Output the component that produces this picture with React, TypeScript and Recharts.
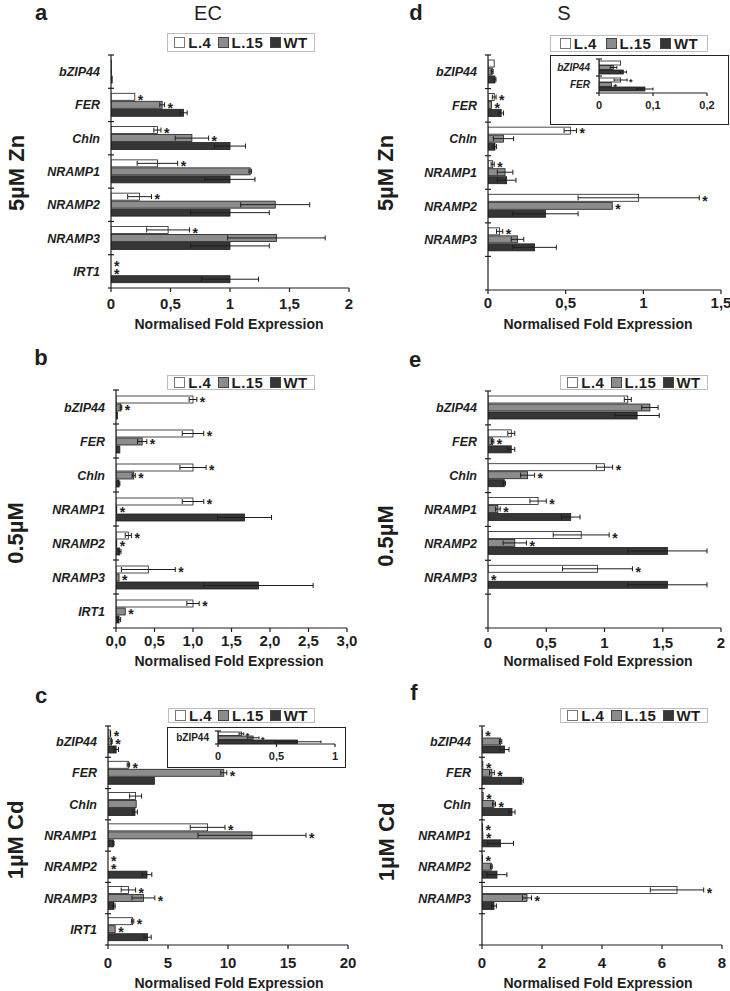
import React from 'react';
import { BarChart, Bar, XAxis, YAxis, ErrorBar } from 'recharts';

const FONT = '"Liberation Sans", Arial, Helvetica, sans-serif';
const INK = '#1e1e1e';
const FILL = { l4: '#ffffff', l15: '#8c8c8c', wt: '#363636' };

// genes, root (EC) panels have IRT1, shoot (S) panels leave the last slot empty
const genesRoot = ['bZIP44', 'FER', 'Chln', 'NRAMP1', 'NRAMP2', 'NRAMP3', 'IRT1'];
const genesShoot = ['bZIP44', 'FER', 'Chln', 'NRAMP1', 'NRAMP2', 'NRAMP3', ''];

// a: EC, 5µM Zn
const aL4 = [0.005, 0.2, 0.39, 0.39, 0.24, 0.48, 0];
const aL4Err = [0, 0, 0.03, 0.17, 0.1, 0.18, 0];
const aL4Sig = [0, 1, 1, 1, 1, 1, 1];
const aL15 = [0.005, 0.43, 0.68, 1.17, 1.38, 1.39, 0];
const aL15Err = [0, 0.02, 0.14, 0.01, 0.29, 0.41, 0];
const aL15Sig = [0, 1, 1, 0, 0, 0, 1];
const aWt = [0.01, 0.61, 1.0, 1.0, 1.0, 1.0, 1.0];
const aWtErr = [0, 0.03, 0.13, 0.21, 0.33, 0.33, 0.24];

// d: S, 5µM Zn
const dL4 = [0.04, 0.04, 0.53, 0.03, 0.97, 0.075, null];
const dL4Err = [0, 0.012, 0.04, 0.01, 0.39, 0.02, 0];
const dL4Sig = [0, 1, 1, 1, 1, 1, 0];
const dL15 = [0.027, 0.023, 0.1, 0.11, 0.8, 0.19, null];
const dL15Err = [0.006, 0, 0.065, 0.05, 0, 0.04, 0];
const dL15Sig = [0, 1, 0, 0, 1, 0, 0];
const dWt = [0.045, 0.085, 0.045, 0.12, 0.37, 0.3, null];
const dWtErr = [0.006, 0.015, 0.01, 0.06, 0.21, 0.14, 0];

// b: EC, 0.5µM
const bL4 = [1.0, 1.0, 1.0, 1.0, 0.16, 0.42, 1.0];
const bL4Err = [0.05, 0.14, 0.17, 0.14, 0.04, 0.35, 0.08];
const bL4Sig = [1, 1, 1, 1, 1, 1, 1];
const bL15 = [0.065, 0.34, 0.23, 0.01, 0.01, 0.04, 0.12];
const bL15Err = [0.01, 0.06, 0.02, 0, 0, 0, 0];
const bL15Sig = [1, 1, 1, 1, 1, 1, 1];
const bWt = [0.02, 0.05, 0.04, 1.67, 0.05, 1.85, 0.04];
const bWtErr = [0, 0, 0.01, 0.35, 0.015, 0.71, 0.02];

// e: S, 0.5µM
const eL4 = [1.2, 0.2, 1.0, 0.43, 0.8, 0.94, null];
const eL4Err = [0.03, 0.03, 0.07, 0.07, 0.24, 0.3, 0];
const eL4Sig = [0, 0, 1, 1, 1, 1, 0];
const eL15 = [1.39, 0.04, 0.34, 0.085, 0.23, 0, null];
const eL15Err = [0.07, 0.01, 0.06, 0.02, 0.1, 0, 0];
const eL15Sig = [0, 1, 1, 1, 1, 1, 0];
const eWt = [1.28, 0.2, 0.14, 0.71, 1.54, 1.54, null];
const eWtErr = [0.19, 0.03, 0.01, 0.08, 0.34, 0.34, 0];

// c: EC, 1µM Cd
const cL4 = [0.2, 1.7, 2.3, 8.3, 0, 1.7, 2.05];
const cL4Err = [0.02, 0.1, 0.5, 1.45, 0, 0.6, 0.1];
const cL4Sig = [1, 1, 0, 1, 1, 1, 1];
const cL15 = [0.3, 9.65, 2.35, 12.0, 0, 2.95, 0.6];
const cL15Err = [0.05, 0.25, 0, 4.5, 0, 0.95, 0];
const cL15Sig = [1, 1, 0, 1, 1, 1, 1];
const cWt = [0.68, 3.87, 2.25, 0.45, 3.25, 0.5, 3.3];
const cWtErr = [0.2, 0, 0.2, 0.05, 0.4, 0.1, 0.3];

// f: S, 1µM Cd
const fL4 = [0.01, 0.03, 0.04, 0.02, 0.02, 6.5, null];
const fL4Err = [0, 0, 0, 0, 0, 0.89, 0];
const fL4Sig = [1, 1, 1, 1, 1, 1, 0];
const fL15 = [0.62, 0.33, 0.4, 0.03, 0.31, 1.5, null];
const fL15Err = [0.04, 0.08, 0.05, 0, 0.03, 0.15, 0];
const fL15Sig = [0, 1, 1, 1, 0, 1, 0];
const fWt = [0.75, 1.33, 1.0, 0.62, 0.5, 0.4, null];
const fWtErr = [0.15, 0.05, 0.1, 0.43, 0.33, 0.08, 0];

const ticksA = [0, 0.5, 1, 1.5, 2];
const ticksD = [0, 0.5, 1, 1.5];
const ticksB = [0, 0.5, 1, 1.5, 2, 2.5, 3];
const ticksE = [0, 0.5, 1, 1.5, 2];
const ticksC = [0, 5, 10, 15, 20];
const ticksF = [0, 2, 4, 6, 8];
const ticksInsetD = [0, 0.1, 0.2];
const ticksInsetC = [0, 0.5, 1];

type Key = 'l4' | 'l15' | 'wt';
type Row = Record<string, any>;

function makeRows(
  genes: string[],
  l4: (number | null)[], l4Err: number[], l4Sig: number[],
  l15: (number | null)[], l15Err: number[], l15Sig: number[],
  wt: (number | null)[], wtErr: number[]
): Row[] {
  return genes.map((gene, i) => ({
    gene,
    l4: l4[i], l4Err: l4Err[i], l4Sig: l4Sig[i],
    l15: l15[i], l15Err: l15Err[i], l15Sig: l15Sig[i],
    wt: wt[i], wtErr: wtErr[i], wtSig: 0
  }));
}

const rowsA = makeRows(genesRoot, aL4, aL4Err, aL4Sig, aL15, aL15Err, aL15Sig, aWt, aWtErr);
const rowsD = makeRows(genesShoot, dL4, dL4Err, dL4Sig, dL15, dL15Err, dL15Sig, dWt, dWtErr);
const rowsB = makeRows(genesRoot, bL4, bL4Err, bL4Sig, bL15, bL15Err, bL15Sig, bWt, bWtErr);
const rowsE = makeRows(genesShoot, eL4, eL4Err, eL4Sig, eL15, eL15Err, eL15Sig, eWt, eWtErr);
const rowsC = makeRows(genesRoot, cL4, cL4Err, cL4Sig, cL15, cL15Err, cL15Sig, cWt, cWtErr);
const rowsF = makeRows(genesShoot, fL4, fL4Err, fL4Sig, fL15, fL15Err, fL15Sig, fWt, fWtErr);
const rowsInsetD = rowsD.slice(0, 2);
const rowsInsetC = rowsC.slice(0, 1);

const fmtComma = (v: number) => String(v).replace('.', ',');
const fmtFixed = (v: number) => v.toFixed(1).replace('.', ',');

// bar with its significance star just after the error whisker
const barShape = (key: Key, starSize: number, starGap: number) => (p: any) => {
  const { x, y, width, height, payload } = p;
  const v = payload?.[key];
  if (v == null) return <g />;
  const w = Math.max(0, width || 0);
  const err = payload[key + 'Err'] || 0;
  const k = v > 0 ? w / v : 0;
  const end = x + w + err * k;
  return (
    <g>
      {w > 0 && (
        <rect x={x} y={y} width={w} height={height} fill={FILL[key]} stroke={INK} strokeWidth={0.8} />
      )}
      {payload[key + 'Sig'] ? (
        <text
          x={end + starGap}
          y={y + height / 2 + starSize * 0.56}
          fontSize={starSize}
          fontWeight={700}
          fontFamily={FONT}
          fill={INK}
        >
          *
        </text>
      ) : null}
    </g>
  );
};

type PanelProps = {
  rows: Row[];
  x0: number; x1: number; y0: number; y1: number;
  domain: [number, number];
  ticks: number[];
  fmt: (v: number) => string;
  yw?: number; mt?: number; mr?: number; xh?: number;
  barSize: number; barGap: number;
  labelSize: number; labelGap: number; italic: boolean;
  tickFont: number; tickMargin: number; tickLen: number;
  starSize: number; starGap: number;
};

function Panel(props: PanelProps) {
  const { rows, x0, x1, y0, y1, domain, ticks, fmt, barSize, barGap } = props;
  const yw = props.yw ?? 100;
  const mt = props.mt ?? 8;
  const mr = props.mr ?? 14;
  const xh = props.xh ?? 30;
  const left = x0 - yw;
  const top = y0 - mt;
  const width = x1 - left + mr;
  const height = y1 - top + xh;
  const half = (y1 - y0) / (2 * rows.length);

  const geneTick = (p: any) => (
    <g>
      <line x1={p.x - 3} x2={p.x + 3} y1={p.y - half} y2={p.y - half} stroke={INK} strokeWidth={1.2} />
      {p.index === rows.length - 1 && (
        <line x1={p.x - 3} x2={p.x} y1={p.y + half} y2={p.y + half} stroke={INK} strokeWidth={1.2} />
      )}
      <text
        x={p.x - props.labelGap}
        y={p.y}
        dy="0.36em"
        textAnchor="end"
        fontSize={props.labelSize}
        fontWeight={700}
        fontStyle={props.italic ? 'italic' : 'normal'}
        fontFamily={FONT}
        fill={INK}
      >
        {p.payload.value}
      </text>
    </g>
  );

  return (
    <div style={{ position: 'absolute', left, top }}>
      <BarChart
        width={width}
        height={height}
        data={rows}
        layout="vertical"
        margin={{ top: mt, right: mr, bottom: 0, left: 0 }}
        barSize={barSize}
        barGap={barGap}
        barCategoryGap={0}
      >
        <XAxis
          type="number"
          domain={domain}
          ticks={ticks}
          interval={0}
          allowDataOverflow
          tickFormatter={fmt}
          height={xh}
          tickSize={props.tickLen}
          tickMargin={props.tickMargin}
          axisLine={{ stroke: INK, strokeWidth: 1.2 }}
          tickLine={{ stroke: INK, strokeWidth: 1.2 }}
          tick={{ fontSize: props.tickFont, fontWeight: 700, fill: INK, fontFamily: FONT }}
        />
        <YAxis
          type="category"
          dataKey="gene"
          width={yw}
          interval={0}
          tickLine={false}
          tickSize={0}
          tickMargin={0}
          axisLine={{ stroke: INK, strokeWidth: 1.2 }}
          tick={geneTick}
        />
        {(['l4', 'l15', 'wt'] as Key[]).map((key) => (
          <Bar
            key={key}
            dataKey={key}
            fill={FILL[key]}
            isAnimationActive={false}
            shape={barShape(key, props.starSize, props.starGap)}
          >
            <ErrorBar
              dataKey={key + 'Err'}
              direction="x"
              width={barSize / 2.8}
              stroke={INK}
              strokeWidth={1}
              isAnimationActive={false}
            />
          </Bar>
        ))}
      </BarChart>
    </div>
  );
}

const mainStyle = {
  barSize: 7, barGap: 1,
  labelSize: 12.5, labelGap: 11, italic: true,
  tickFont: 15, tickLen: 4,
  starSize: 14, starGap: 3
};

const insetStyle = {
  tickFont: 11, tickLen: 3, tickMargin: 5,
  starSize: 9, starGap: 2
};

function Legend({ x, y, w, h }: { x: number; y: number; w: number; h: number }) {
  const items: [string, string][] = [
    ['L.4', FILL.l4],
    ['L.15', FILL.l15],
    ['WT', FILL.wt]
  ];
  return (
    <div
      style={{
        position: 'absolute', left: x, top: y, width: w, height: h, boxSizing: 'border-box',
        border: '1px solid #bdbdbd', background: '#fff', display: 'flex',
        alignItems: 'center', justifyContent: 'space-evenly',
        fontFamily: FONT, fontWeight: 700, fontSize: 15, letterSpacing: 0.4, color: INK
      }}
    >
      {items.map(([name, fill]) => (
        <span key={name} style={{ display: 'flex', alignItems: 'center', gap: 3 }}>
          <span
            style={{
              display: 'inline-block', width: 9, height: 9, background: fill,
              border: '1px solid ' + (fill === '#ffffff' ? '#777' : '#444')
            }}
          />
          {name}
        </span>
      ))}
    </div>
  );
}

function Txt({ x, y, size, weight = 700, rotate = false, children }: any) {
  return (
    <div
      style={{
        position: 'absolute', left: x, top: y, whiteSpace: 'nowrap', lineHeight: 1,
        transform: `translate(-50%, -50%)${rotate ? ' rotate(-90deg)' : ''}`,
        fontFamily: FONT, fontSize: size, fontWeight: weight, color: INK
      }}
    >
      {children}
    </div>
  );
}

const AXIS_TITLE = 'Normalised Fold Expression';

export default function App() {
  return (
    <div
      style={{
        position: 'absolute', left: 0, top: 0, width: 730, height: 991,
        background: '#fff', overflow: 'hidden', fontFamily: FONT
      }}
    >
      {/* panel a */}
      <Panel rows={rowsA} x0={111} x1={349} y0={55} y1={288} domain={[0, 2]} ticks={ticksA}
        fmt={fmtComma} tickMargin={6.5} {...mainStyle} />
      {/* panel d */}
      <Panel rows={rowsD} x0={488} x1={721} y0={55} y1={290} domain={[0, 1.5]} ticks={ticksD}
        fmt={fmtComma} tickMargin={3} {...mainStyle} />
      {/* panel b */}
      <Panel rows={rowsB} x0={116} x1={347} y0={390} y1={628} domain={[0, 3]} ticks={ticksB}
        fmt={fmtFixed} tickMargin={3.5} {...mainStyle} />
      {/* panel e */}
      <Panel rows={rowsE} x0={488} x1={721} y0={391} y1={628} domain={[0, 2]} ticks={ticksE}
        fmt={fmtComma} tickMargin={5.5} {...mainStyle} />
      {/* panel c */}
      <Panel rows={rowsC} x0={108} x1={348} y0={726} y1={945} domain={[0, 20]} ticks={ticksC}
        fmt={fmtComma} tickMargin={8} {...mainStyle} />
      {/* panel f */}
      <Panel rows={rowsF} x0={482} x1={722} y0={726} y1={945} domain={[0, 8]} ticks={ticksF}
        fmt={fmtComma} tickMargin={8} {...mainStyle} />

      {/* inset of d */}
      <div style={{ position: 'absolute', left: 550, top: 55, width: 179, height: 70, boxSizing: 'border-box',
        border: '1px solid #222', background: '#fff' }} />
      <Panel rows={rowsInsetD} x0={599} x1={707} y0={59} y1={93} domain={[0, 0.2]} ticks={ticksInsetD}
        fmt={fmtComma} yw={47} mt={3} mr={16} xh={24} barSize={4} barGap={0.5}
        labelSize={10} labelGap={9} italic {...insetStyle} />

      {/* inset of c */}
      <div style={{ position: 'absolute', left: 167, top: 727, width: 179, height: 41, boxSizing: 'border-box',
        border: '1px solid #222', background: '#fff' }} />
      <Panel rows={rowsInsetC} x0={218} x1={335} y0={731} y1={744} domain={[0, 1]} ticks={ticksInsetC}
        fmt={fmtComma} yw={49} mt={3} mr={10} xh={22} barSize={3.5} barGap={0.5}
        labelSize={10} labelGap={9} italic={false} {...insetStyle} />

      <Legend x={167} y={33} w={148} h={19} />
      <Legend x={550} y={35} w={158} h={17} />
      <Legend x={167} y={375} w={148} h={15} />
      <Legend x={560} y={375} w={148} h={15} />
      <Legend x={168} y={708} w={147} h={15} />
      <Legend x={560} y={708} w={148} h={15} />

      <Txt x={41} y={13} size={22}>a</Txt>
      <Txt x={416} y={13} size={22}>d</Txt>
      <Txt x={41} y={358} size={22}>b</Txt>
      <Txt x={415} y={360} size={22}>e</Txt>
      <Txt x={41} y={696} size={22}>c</Txt>
      <Txt x={414} y={693} size={22}>f</Txt>

      <Txt x={208} y={13} size={20} weight={400}>EC</Txt>
      <Txt x={564} y={13} size={20} weight={400}>S</Txt>

      <Txt x={17} y={173} size={22} rotate>5µM Zn</Txt>
      <Txt x={16} y={533} size={22} rotate>0.5µM</Txt>
      <Txt x={16} y={840} size={22} rotate>1µM Cd</Txt>
      <Txt x={386} y={173} size={22} rotate>5µM Zn</Txt>
      <Txt x={386} y={536} size={22} rotate>0.5µM</Txt>
      <Txt x={387} y={842} size={22} rotate>1µM Cd</Txt>

      <Txt x={229} y={324} size={14}>{AXIS_TITLE}</Txt>
      <Txt x={598} y={324} size={14}>{AXIS_TITLE}</Txt>
      <Txt x={229} y={661} size={14}>{AXIS_TITLE}</Txt>
      <Txt x={598} y={661} size={14}>{AXIS_TITLE}</Txt>
      <Txt x={229} y={983} size={14}>{AXIS_TITLE}</Txt>
      <Txt x={598} y={983} size={14}>{AXIS_TITLE}</Txt>
    </div>
  );
}
